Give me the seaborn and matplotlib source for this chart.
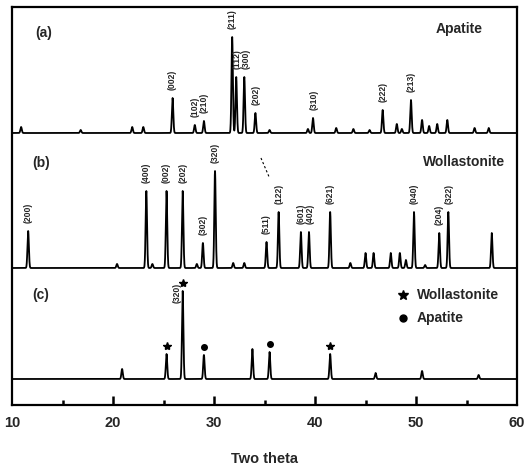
import numpy as np
import pandas as pd
import matplotlib
matplotlib.use("Agg")
import matplotlib.pyplot as plt
import seaborn as sns

# ---------------- data (peak positions in 2-theta, peak heights in arbitrary units) -------------
apatite_pos = [10.9, 16.8, 21.9, 23.0, 25.9, 28.1, 29.0, 31.8, 32.2, 33.0, 34.1, 35.5,
               39.3, 39.8, 42.1, 43.8, 45.4, 46.7, 48.1, 48.6, 49.5, 50.6, 51.3, 52.1,
               53.1, 55.8, 57.2]
apatite_int = [6, 3, 6, 6, 35, 8, 12, 96, 56, 56, 20, 3,
               4, 15, 5, 4, 3, 23, 9, 4, 33, 13, 7, 9,
               13, 5, 5]
apatite_hkl = ["(002)", "(102)", "(210)", "(211)", "(112)", "(300)", "(202)",
               "(310)", "(222)", "(213)"]
apatite_hkl_pos = [25.9, 28.1, 29.0, 31.8, 32.3, 33.2, 34.2, 39.9, 46.7, 49.5]

wollastonite_pos = [11.6, 20.4, 23.3, 23.9, 25.3, 26.9, 28.3, 28.9, 30.1, 31.9, 33.0,
                    35.2, 36.4, 38.6, 39.4, 41.5, 43.5, 45.0, 45.8, 47.5, 48.4, 49.0,
                    49.8, 50.9, 52.3, 53.2, 57.5]
wollastonite_int = [37, 4, 77, 4, 77, 77, 4, 25, 97, 5, 5,
                    26, 56, 36, 36, 56, 5, 15, 15, 15, 15, 8,
                    56, 3, 35, 56, 35]
wollastonite_hkl = ["(200)", "(400)", "(002)", "(202)", "(302)", "(320)", "(511)",
                    "(122)", "(601)", "(402)", "(621)", "(040)", "(204)", "(322)"]
wollastonite_hkl_pos = [11.6, 23.3, 25.3, 26.9, 28.9, 30.1, 35.2, 36.4, 38.6, 39.5,
                        41.5, 49.8, 52.3, 53.3]

composite_pos = [20.9, 25.3, 26.9, 29.0, 33.8, 35.5, 41.5, 46.0, 50.6, 56.2]
composite_int = [10, 25, 88, 24, 30, 27, 25, 6, 8, 4]
composite_star_pos = [25.3, 26.9, 41.5]
composite_dot_pos = [29.0, 35.5]

x_ticks = [10, 20, 30, 40, 50, 60]
x_minor_ticks = [15, 25, 35, 45, 55]
x_label = "Two theta"

# ---------------- styling / layout ----------------
sns.set_style("ticks")
plt.rcParams["font.family"] = ["Liberation Sans", "DejaVu Sans"]
plt.rcParams["font.weight"] = "bold"

offsets = {"a": 272, "b": 137, "c": 26}
width = 0.07
grid = np.linspace(10, 60, 5001)


def profile(pos, inten):
    y = np.zeros_like(grid)
    for p, h in zip(pos, inten):
        y += h * np.exp(-0.5 * ((grid - p) / width) ** 2)
    return y


frames = []
for key, (pos, inten) in {"a": (apatite_pos, apatite_int),
                          "b": (wollastonite_pos, wollastonite_int),
                          "c": (composite_pos, composite_int)}.items():
    frames.append(pd.DataFrame({"two_theta": grid,
                                "intensity": profile(pos, inten) + offsets[key],
                                "pattern": key}))
df = pd.concat(frames, ignore_index=True)

fig = plt.figure(figsize=(5.26, 4.66), dpi=100)
ax = fig.add_axes([12 / 526, 61 / 466, 505 / 526, 398 / 466])

sns.lineplot(data=df, x="two_theta", y="intensity", units="pattern", estimator=None,
             color="black", linewidth=1.3, ax=ax, legend=False)

ax.set_xlim(10, 60)
ax.set_ylim(0, 398)
ax.set_yticks([])
ax.set_ylabel("")
ax.set_xticks(x_ticks)
ax.set_xticks(x_minor_ticks, minor=True)
ax.tick_params(axis="x", which="both", direction="in", length=0, labelsize=10.5, pad=8)
# inward tick marks drawn explicitly
ax.vlines(x_ticks[1:-1], 0, 9, color="black", linewidth=1.8, clip_on=False, zorder=5)
ax.vlines(x_minor_ticks, 0, 5.5, color="black", linewidth=1.8, clip_on=False, zorder=5)
for s in ax.spines.values():
    s.set_visible(True)
    s.set_linewidth(1.6)
    s.set_color("black")
for lab in ax.get_xticklabels():
    lab.set_fontweight("bold")
ax.set_xlabel(x_label, fontsize=10.5, fontweight="bold", labelpad=16)


def peak_top(pos, inten, x, off):
    y = profile(pos, inten) + off
    i = np.argmin(np.abs(grid - x))
    lo, hi = max(i - 20, 0), min(i + 20, len(grid))
    return y[lo:hi].max()


lab_kw = dict(rotation=90, ha="center", va="bottom", fontsize=6.2, fontweight="bold")
for hkl, x in zip(apatite_hkl, apatite_hkl_pos):
    y = peak_top(apatite_pos, apatite_int, x, offsets["a"])
    ax.text(x, y + 8, hkl, **lab_kw)
for hkl, x in zip(wollastonite_hkl, wollastonite_hkl_pos):
    y = peak_top(wollastonite_pos, wollastonite_int, x, offsets["b"])
    ax.text(x, y + 8, hkl, **lab_kw)

# markers on composite pattern
for x in composite_star_pos:
    y = peak_top(composite_pos, composite_int, x, offsets["c"])
    ax.plot(x, y + 8, marker="*", color="black", markersize=6, linestyle="none")
for x in composite_dot_pos:
    y = peak_top(composite_pos, composite_int, x, offsets["c"])
    ax.plot(x, y + 8, marker="o", color="black", markersize=4, linestyle="none")
ax.text(26.3, 102, "(320)", **lab_kw)

# panel labels
ax.text(12.3, 372, "(a)", fontsize=10, fontweight="bold", va="center")
ax.text(12.0, 242, "(b)", fontsize=10, fontweight="bold", va="center")
ax.text(12.0, 110, "(c)", fontsize=10, fontweight="bold", va="center")
ax.text(51.9, 376, "Apatite", fontsize=10, fontweight="bold", va="center")
ax.text(50.7, 243, "Wollastonite", fontsize=10, fontweight="bold", va="center")

# legend for (c)
ax.plot(48.7, 110, marker="*", color="black", markersize=7, linestyle="none")
ax.text(50.1, 110, "Wollastonite", fontsize=10, fontweight="bold", va="center")
ax.plot(48.7, 87, marker="o", color="black", markersize=5, linestyle="none")
ax.text(50.1, 87, "Apatite", fontsize=10, fontweight="bold", va="center")

# small dashed stroke in (b)
ax.plot([34.65, 35.5], [247, 227], color="black", linewidth=0.8, linestyle=(0, (2, 2)))

fig.savefig("out.png", dpi=100)
